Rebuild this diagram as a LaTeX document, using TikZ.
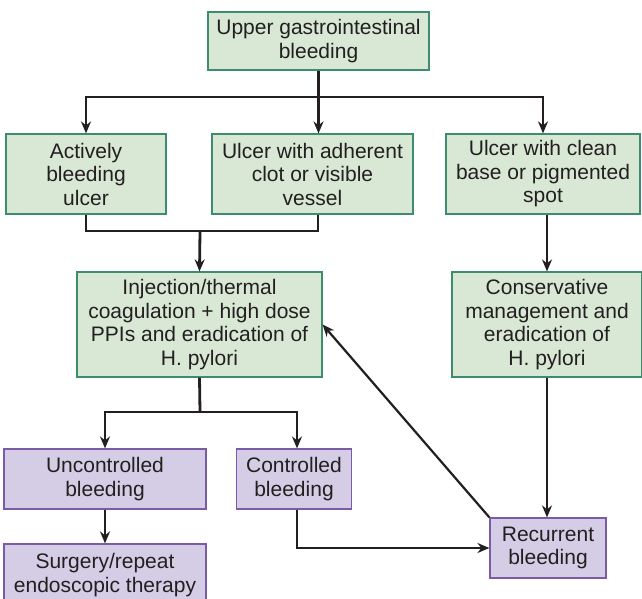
\documentclass[tikz,border=0pt]{standalone}
\usepackage{fontspec}
\setmainfont{Liberation Sans}
\usetikzlibrary{arrows.meta}

\definecolor{greenfill}{HTML}{D8E8D5}
\definecolor{greenline}{HTML}{3C8C6E}
\definecolor{purplefill}{HTML}{D4CDE5}
\definecolor{purpleline}{HTML}{7B5AA6}
\definecolor{ink}{HTML}{231F20}

\begin{document}
\begin{tikzpicture}[
    x=1pt, y=-1pt,
    every node/.style={font=\fontsize{21}{23.5}\selectfont, text=ink},
    greenbox/.style={draw=greenline, fill=greenfill, line width=1.2pt, align=center, inner sep=0pt},
    purplebox/.style={draw=purpleline, fill=purplefill, line width=1.2pt, align=center, inner sep=0pt},
    link/.style={draw=ink, line width=2.8pt},
    arr/.style={link, -{Stealth[length=12pt, width=10pt]}}
]

    \useasboundingbox (0,0) rectangle (642,599);

    % ==========================
    % FIRST ROWS: findings at endoscopy
    % ==========================
    \node[greenbox, minimum width=221pt, minimum height=58pt] (ugib) at (318.5,41)
        {Upper gastrointestinal\\bleeding};

    \node[greenbox, minimum width=160pt, minimum height=80pt] (active) at (86,174)
        {Actively\\bleeding\\ulcer};
    \node[greenbox, minimum width=201pt, minimum height=80pt] (clot) at (312.5,174)
        {Ulcer with adherent\\clot or visible\\vessel};
    \node[greenbox, minimum width=194pt, minimum height=80pt] (clean) at (543,174)
        {Ulcer with clean\\base or pigmented\\spot};

    \node[greenbox, minimum width=245pt, minimum height=105pt] (inject) at (199.5,324.5)
        {Injection/thermal\\coagulation + high dose\\PPIs and eradication of\\H. pylori};
    \node[greenbox, minimum width=190pt, minimum height=105pt] (conserv) at (547,324.5)
        {Conservative\\management and\\eradication of\\H. pylori};

    % ==========================
    % LOWER ROWS: outcome
    % ==========================
    \node[purplebox, minimum width=202pt, minimum height=60pt] (uncontrol) at (105,479)
        {Uncontrolled\\bleeding};
    \node[purplebox, minimum width=115pt, minimum height=60pt] (control) at (294,479)
        {Controlled\\bleeding};
    \node[purplebox, minimum width=202pt, minimum height=62pt] (surgery) at (105,575)
        {Surgery/repeat\\endoscopic therapy};
    \node[purplebox, minimum width=116pt, minimum height=60pt] (recur) at (548,548)
        {Recurrent\\bleeding};

    % junction points
    \coordinate (split1) at (318.5,97);
    \coordinate (join1) at (200,231);
    \coordinate (split2) at (200,412);

    % ==========================
    % CONNECTORS
    % ==========================
    \draw[link] (ugib.south) -- (split1);
    \draw[arr] (split1) -| (active.north);
    \draw[arr] (split1) -- (split1 |- clot.north);
    \draw[arr] (split1) -| (clean.north);

    \draw[link] (active.south) |- (join1);
    \draw[link] ([xshift=5.5pt]clot.south) |- (join1);
    \draw[arr] (join1) -- (inject.north);

    \draw[arr] (clean.south -| conserv.north) -- (conserv.north);

    \draw[link] (inject.south) -- (split2);
    \draw[arr] (split2) -| (uncontrol.north);
    \draw[arr] (split2) -| ([xshift=3pt]control.north);

    \draw[arr] (uncontrol.south) -- (surgery.north);
    \draw[arr] ([xshift=3pt]control.south) |- (recur.west);
    \draw[arr] (conserv.south) -- (conserv.south |- recur.north);
    \draw[arr, line width=2.2pt] (recur.north west) -- (inject.east);

\end{tikzpicture}
\end{document}
